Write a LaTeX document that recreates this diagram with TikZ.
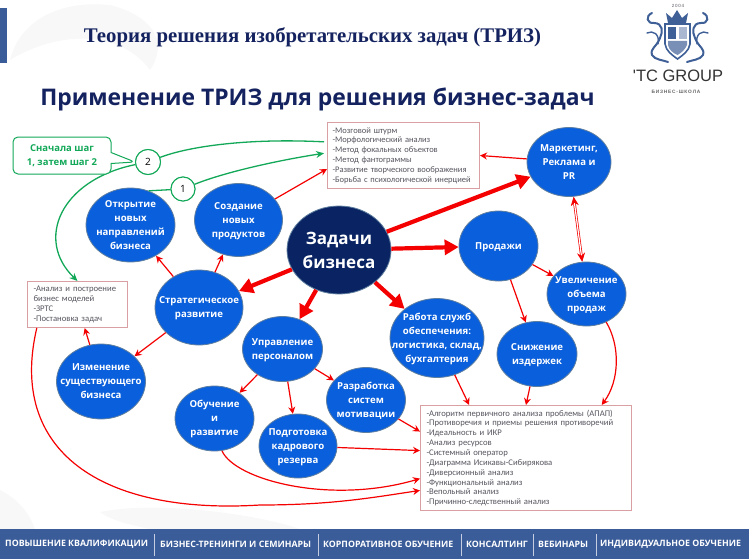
\documentclass[tikz,border=0pt]{standalone}
\usepackage{fontspec}
\setmainfont{Open Sans}
\newfontfamily\titlefont{Liberation Serif}
\newfontfamily\boxfont{Carlito}
\newfontfamily\logofont{Liberation Sans}
\usetikzlibrary{
  arrows.meta,
  shapes,
  shapes.geometric,
  shapes.callouts,
  positioning,
  calc
}
\definecolor{trBlue}{HTML}{0A5FDC}
\definecolor{trNavy}{HTML}{0A2463}
\definecolor{trEdge}{HTML}{5F7F9F}
\definecolor{trRed}{HTML}{F40000}
\definecolor{trGreen}{HTML}{12A858}
\definecolor{trFrame}{HTML}{D9A0A4}
\definecolor{trBar}{HTML}{3A5C99}
\definecolor{trHead}{HTML}{14235F}
\definecolor{trList}{HTML}{55555F}
\definecolor{trCrest}{HTML}{3F5F97}
\definecolor{trShade}{HTML}{F8F8F9}
% label that does not push the ellipse wider
\newcommand{\tasktext}[1]{\smash{\makebox[0pt]{\raisebox{-0.33em}{\begin{tabular}{@{}c@{}}#1\end{tabular}}}}}
\tikzset{
  task/.style={
    draw=trEdge, ellipse, fill=trBlue, inner sep=0pt, line width=0.8pt,
    font=\fontsize{9.6}{14}\selectfont\bfseries, text=white
  },
  listbox/.style={
    draw=trFrame, fill=white, line width=1pt, inner xsep=6pt, inner ysep=0pt, anchor=north west,
    font=\boxfont\fontsize{8.65}{9.85}\selectfont, text=trList, align=left
  },
  stepmark/.style={
    draw=trGreen, circle, fill=white, line width=1pt, minimum size=24pt, inner sep=0pt,
    font=\fontsize{10}{12}\selectfont
  },
  flow/.style={-{Stealth[length=7pt,width=7pt]}, line width=1.2pt, trRed},
  bigflow/.style={-{Triangle[length=14pt,width=15pt]}, line width=4.2pt, trRed},
  twoway/.style={{Stealth[length=9pt,width=8pt]}-{Stealth[length=9pt,width=8pt]},
    trRed, line width=0.7pt, double=white, double distance=1.2pt},
  greenflow/.style={-{Stealth[length=8pt,width=7pt]}, line width=1.3pt, trGreen},
  greenline/.style={line width=1.3pt, trGreen},
  swirl/.style={trCrest, line width=2pt, line cap=round},
  barlabel/.style={font=\fontsize{8.8}{10}\selectfont\bfseries, text=white, anchor=west, inner sep=0pt}
}
\begin{document}
\begin{tikzpicture}[x=1pt, y=-1pt]
  \useasboundingbox (0,0) rectangle (749,559);
  % watermark
  \fill[trShade] (10,60) .. controls (20,20) and (60,0) .. (110,5) .. controls (150,15) and (170,40) .. (150,70) .. controls (120,30) and (60,30) .. (10,60) -- cycle;
  \fill[trShade] (100,512) .. controls (160,500) and (260,515) .. (300,529) -- (150,529) .. controls (130,525) and (110,520) .. (100,512) -- cycle;
  \fill[trShade] (0,490) .. controls (20,500) and (30,515) .. (35,529) -- (0,529) -- cycle;
  % head
  \fill[trBar] (0,8) rectangle (7,63);
  \node[font=\titlefont\fontsize{20.8}{24}\selectfont\bfseries, text=trHead, inner sep=0pt] (title) at (312.5,37) {Теория решения изобретательских задач (ТРИЗ)};
  \node[font=\fontsize{22.9}{27}\selectfont\bfseries, text=trHead, inner sep=0pt] (subtitle) at (317.5,99) {Применение ТРИЗ для решения бизнес-задач};
  % logo
  \fill[trCrest] (668,23) -- (666,13) -- (672,18) -- (677,10) -- (682,18) -- (688,13) -- (686,23) -- cycle;
  \draw[trCrest, line width=1.6pt, fill=white] (665,24) -- (690,24) -- (690,44) .. controls (689,51) and (683,55) .. (677.5,59) .. controls (672,55) and (666,51) .. (665,44) -- cycle;
  \fill[trCrest] (668,27) rectangle (676,39);
  \fill[trCrest!45] (679,27) rectangle (687,39);
  \fill[trCrest!70] (668,41) -- (687,41) -- (687,45) .. controls (685,50) and (681,53) .. (677.5,55) .. controls (673,53) and (669,50) .. (668,45) -- cycle;
  \draw[swirl] (652,13) .. controls (645,16) and (647,24) .. (654,23) .. controls (663,23) and (663,32) .. (660,38) .. controls (656,48) and (650,48) .. (652,55) .. controls (655,60) and (663,60) .. (668,62);
  \draw[swirl] (703,13) .. controls (710,16) and (708,24) .. (701,23) .. controls (692,23) and (692,32) .. (695,38) .. controls (699,48) and (705,48) .. (703,55) .. controls (700,60) and (692,60) .. (687,62);
  \draw[swirl, line width=1.4pt] (647,33) .. controls (653,30) and (660,34) .. (658,44);
  \draw[swirl, line width=1.4pt] (708,33) .. controls (702,30) and (695,34) .. (697,44);
  \node[font=\logofont\fontsize{4.5}{5}\selectfont, text=trList, inner sep=0pt] (logoyear) at (678,6) {2\,0\,0\,4};
  \node[font=\logofont\fontsize{16.5}{18}\selectfont, text=black!80, inner sep=0pt] (logoname) at (678,76) {\textquotesingle TC GROUP};
  \node[font=\logofont\fontsize{4.8}{6}\selectfont\bfseries, text=black!60, inner sep=0pt] (logotag) at (676,92) {Б\,И\,З\,Н\,Е\,С\,-\,Ш\,К\,О\,Л\,А};
  % lists
  \node[listbox, font=\boxfont\fontsize{8.5}{9.85}\selectfont, inner xsep=5pt, minimum width=152pt, minimum height=66pt, text width=142pt] (topbox) at (327,122) {-Мозговой штурм\\-Морфологический анализ\\-Метод фокальных объектов\\-Метод фантограммы\\-Развитие творческого воображения\\-Борьба с психологической инерцией};
  \node[listbox, minimum width=100pt, minimum height=46pt, text width=88pt] (leftbox) at (27,281) {-Анализ и построение\\бизнес моделей\\-ЗРТС\\-Постановка задач};
  \node[listbox, minimum width=211pt, minimum height=105pt, text width=199pt] (botbox) at (420,405) {-Алгоритм первичного анализа проблемы (АПАП)\\-Противоречия и приемы решения противоречий\\-Идеальность и ИКР\\-Анализ ресурсов\\-Системный оператор\\-Диаграмма Исикавы-Сибирякова\\-Диверсионный анализ\\-Функциональный анализ\\-Вепольный анализ\\-Причинно-следственный анализ};
  % tasks
  \node[task, fill=trNavy, minimum width=104pt, minimum height=88pt, font=\fontsize{17}{24}\selectfont\bfseries] (zad) at (339,250) {\tasktext{Задачи\\бизнеса}};
  \node[task, minimum width=89pt, minimum height=74pt] (otkr) at (130.5,225) {\tasktext{Открытие\\новых\\направлений\\бизнеса}};
  \node[task, minimum width=88pt, minimum height=73pt] (sozd) at (238.5,220) {\tasktext{Создание\\новых\\продуктов}};
  \node[task, minimum width=88pt, minimum height=75pt] (strat) at (199,307.5) {\tasktext{Стратегическое\\развитие}};
  \node[task, minimum width=89pt, minimum height=75pt] (izm) at (101,381.5) {\tasktext{Изменение\\существующего\\бизнеса}};
  \node[task, minimum width=80pt, minimum height=65pt] (upr) at (282.5,349) {\tasktext{Управление\\персоналом}};
  \node[task, minimum width=79pt, minimum height=65pt] (obuch) at (214.5,418.5) {\tasktext{Обучение\\и\\развитие}};
  \node[task, minimum width=78pt, minimum height=64pt] (podg) at (298,446) {\tasktext{Подготовка\\кадрового\\резерва}};
  \node[task, minimum width=79pt, minimum height=65pt] (razr) at (366,400) {\tasktext{Разработка\\систем\\мотивации}};
  \node[task, minimum width=94pt, minimum height=79pt] (rab) at (437,338) {\tasktext{Работа служб\\обеспечения:\\логистика, склад,\\бухгалтерия}};
  \node[task, minimum width=80pt, minimum height=65pt] (sniz) at (537,354) {\tasktext{Снижение\\издержек}};
  \node[task, minimum width=79pt, minimum height=70pt] (prod) at (498.5,246) {\tasktext{Продажи}};
  \node[task, minimum width=79pt, minimum height=64pt] (uvel) at (586.5,294) {\tasktext{Увеличение\\объема\\продаж}};
  \node[task, minimum width=84pt, minimum height=69pt] (mark) at (569,162) {\tasktext{Маркетинг,\\Реклама и\\PR}};
  % big arrows
  \draw[bigflow] (zad) -- (mark);
  \draw[bigflow] (zad) -- (prod);
  \draw[bigflow] (zad) -- (rab);
  \draw[bigflow] (zad) -- (upr);
  \draw[bigflow] (zad) -- (strat);
  % thin arrows
  \draw[flow] (mark) -- (topbox.east);
  \draw[flow] (sozd) -- (topbox.190);
  \draw[flow] (strat) -- (otkr);
  \draw[flow] (strat) -- (sozd);
  \draw[flow] (strat) -- (izm);
  \draw[flow] (izm) -- (leftbox);
  \draw[flow] (upr) -- (obuch);
  \draw[flow] (upr) -- (podg);
  \draw[flow] (upr) -- (razr);
  \draw[flow] (prod) -- (uvel);
  \draw[flow] (prod) -- (sniz);
  \draw[twoway] (mark) -- (uvel);
  \draw[flow] (rab) -- (botbox.137);
  \draw[flow] (sniz) -- (botbox.north);
  \draw[flow] (razr) -- (botbox.166);
  \draw[flow] (podg) -- (botbox.176);
  \draw[flow] (uvel.-55) .. controls (620,345) and (620,380) .. (botbox.35);
  \draw[flow] (obuch.-77) .. controls (235,480) and (330,505) .. (botbox.191);
  \draw[flow] (leftbox.-150) .. controls (8,450) and (100,515) .. (260,505) .. controls (330,505) and (370,498) .. (botbox.197);
  % steps
  \node[stepmark] (step1) at (183,189) {1};
  \node[stepmark, minimum size=25pt] (step2) at (148,162) {2};
  \draw[greenline] (otkr.62) -- (step1);
  \draw[greenflow, shorten >=3pt] (step1) .. controls (225,172) and (280,160) .. (topbox.178);
  \draw[greenline, shorten <=3pt] (topbox.170) .. controls (250,138) and (190,146) .. (step2);
  \draw[greenflow] (step2) .. controls (60,180) and (35,240) .. (leftbox.north);
  \node[stepmark] (step1) at (183,189) {1};
  \node[stepmark, minimum size=25pt] (step2) at (148,162) {2};
  \node[rectangle callout, draw=trGreen, fill=white, line width=1pt, rounded corners=5pt, minimum width=98pt, minimum height=37pt, inner sep=0pt, align=center,
    callout absolute pointer={(135,162)}, callout pointer width=11pt,
    font=\fontsize{9.5}{14}\selectfont\bfseries, text=trGreen] (note) at (62,155.5) {Сначала шаг\\1, затем шаг 2};
  % footer
  \fill[trBar] (0,529) rectangle (749,559);
  \node[barlabel] (bar1) at (5,544) {ПОВЫШЕНИЕ КВАЛИФИКАЦИИ};
  \node[barlabel] (bar2) at (160,544) {БИЗНЕС-ТРЕНИНГИ И СЕМИНАРЫ};
  \node[barlabel] (bar3) at (323,544) {КОРПОРАТИВНОЕ ОБУЧЕНИЕ};
  \node[barlabel] (bar4) at (466,544) {КОНСАЛТИНГ};
  \node[barlabel] (bar5) at (538,544) {ВЕБИНАРЫ};
  \node[barlabel] (bar6) at (600,544) {ИНДИВИДУАЛЬНОЕ ОБУЧЕНИЕ};
  \foreach \x in {154,318,461,533,596}{
    \draw[white!70!trBar, line width=0.6pt] (\x,534) -- (\x,556);
  }
\end{tikzpicture}
\end{document}
